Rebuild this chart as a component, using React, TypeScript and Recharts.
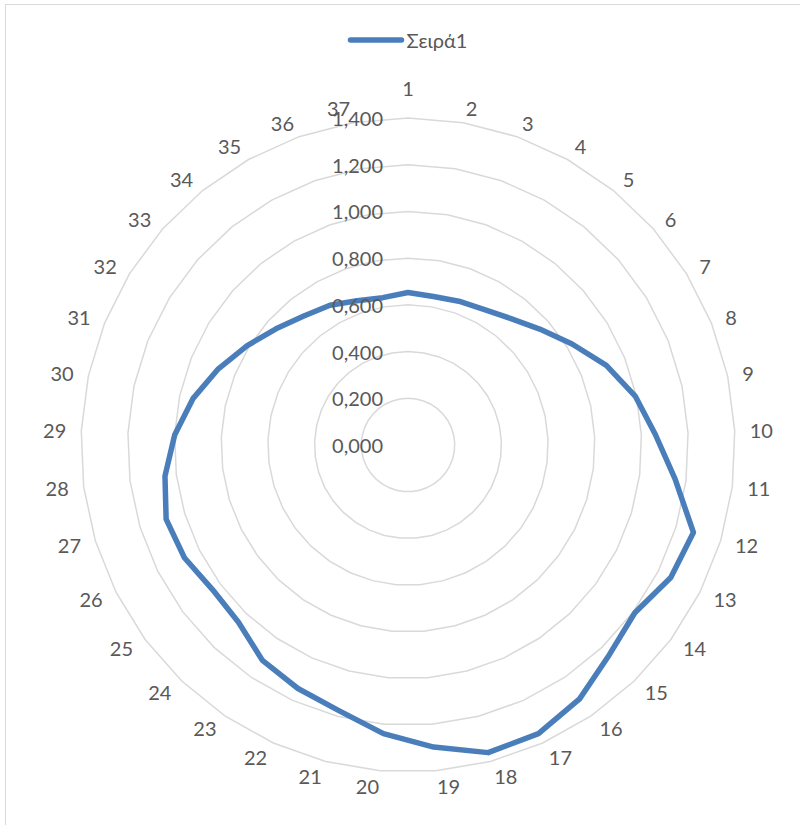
import React from "react";
import { RadarChart, PolarGrid, PolarAngleAxis, PolarRadiusAxis, Radar, Legend } from "recharts";

// Categories 1..37 around the circle
const categories: string[] = [
  "1", "2", "3", "4", "5", "6", "7", "8", "9", "10",
  "11", "12", "13", "14", "15", "16", "17", "18", "19", "20",
  "21", "22", "23", "24", "25", "26", "27", "28", "29", "30",
  "31", "32", "33", "34", "35", "36", "37",
];

// Series values (Σειρά1)
const seriesValues: number[] = [
  0.653, 0.645, 0.653, 0.665, 0.697, 0.751, 0.825, 0.915, 0.995, 1.06,
  1.153, 1.278, 1.26, 1.208, 1.245, 1.312, 1.356, 1.361, 1.298, 1.24,
  1.175, 1.144, 1.113, 1.05, 1.041, 1.072, 1.083, 1.049, 1.0, 0.942,
  0.875, 0.81, 0.753, 0.71, 0.685, 0.655, 0.64,
];

const radiusTicks: number[] = [0, 0.2, 0.4, 0.6, 0.8, 1.0, 1.2, 1.4];

const seriesName = "Σειρά1";

const data = categories.map((name, i) => ({ name, value: seriesValues[i] }));

const FONT = "Lato, 'Noto Sans', sans-serif";
const TEXT = "#595959";
const LINE = "#4a7ebb";
const GRID = "#d9d9d9";

const CX = 408;
const CY = 445;
const OUTER = 327;
const LABEL_GAP = 15;

const fmt = (v: number) => v.toFixed(3).replace(".", ",");

const RadiusTick = (props: any) => {
  const { x, y, payload } = props;
  return (
    <text
      x={x - 25}
      y={y}
      textAnchor="end"
      dominantBaseline="central"
      fill={TEXT}
      fontSize={20}
      fontFamily={FONT}
    >
      {fmt(payload.value)}
    </text>
  );
};

// Category labels: anchored just outside the outer ring, extending away from the centre
const AngleTick = (props: any) => {
  const { payload } = props;
  const angle = payload.coordinate;
  const rad = (-angle * Math.PI) / 180;
  const r = OUTER + LABEL_GAP;
  const x = CX + Math.cos(rad) * r;
  let y = CY + Math.sin(rad) * r;
  const c = Math.cos(rad);
  let anchor: "start" | "end" | "middle" = "middle";
  if (c > 1e-6) anchor = "start";
  else if (c < -1e-6) anchor = "end";
  else y -= Math.sin(rad) < 0 ? 15 : -15;
  return (
    <text
      x={x}
      y={y}
      textAnchor={anchor}
      dominantBaseline="central"
      fill={TEXT}
      fontSize={20}
      fontFamily={FONT}
    >
      {payload.value}
    </text>
  );
};

const LegendContent = () => (
  <div
    style={{
      display: "flex",
      justifyContent: "center",
      alignItems: "center",
      fontFamily: FONT,
      fontSize: 20,
      color: TEXT,
      paddingLeft: 14,
    }}
  >
    <svg width={60} height={12}>
      <line x1={3.5} y1={6} x2={54.5} y2={6} stroke={LINE} strokeWidth={5.5} strokeLinecap="round" />
    </svg>
    <span>{seriesName}</span>
  </div>
);

export default function App() {
  return (
    <div
      style={{
        position: "absolute",
        left: 0,
        top: 0,
        width: 800,
        height: 825,
        overflow: "hidden",
        background: "#fff",
      }}
    >
      <div
        style={{
          position: "absolute",
          left: 5,
          top: 4,
          width: 830,
          height: 850,
          border: `1px solid ${GRID}`,
        }}
      />
      <RadarChart
        width={800}
        height={825}
        data={data}
        cx={CX}
        cy={CY}
        outerRadius={OUTER}
        startAngle={90}
        endAngle={-270}
        margin={{ top: 0, right: 0, bottom: 0, left: 0 }}
        style={{ position: "absolute", left: 0, top: 0 }}
      >
        <PolarGrid gridType="polygon" radialLines={false} stroke={GRID} strokeWidth={1.5} />
        <PolarAngleAxis dataKey="name" tick={<AngleTick />} tickLine={false} axisLine={false} />
        <PolarRadiusAxis
          angle={90}
          domain={[0, 1.4]}
          ticks={radiusTicks}
          tick={<RadiusTick />}
          axisLine={false}
          tickLine={false}
          orientation="left"
        />
        <Radar
          name={seriesName}
          dataKey="value"
          stroke={LINE}
          strokeWidth={5.5}
          strokeLinejoin="round"
          fill="none"
          fillOpacity={0}
          dot={false}
          isAnimationActive={false}
        />
        <Legend
          verticalAlign="top"
          content={<LegendContent />}
          wrapperStyle={{ position: "absolute", top: 28, left: 0, width: 800 }}
        />
      </RadarChart>
    </div>
  );
}
